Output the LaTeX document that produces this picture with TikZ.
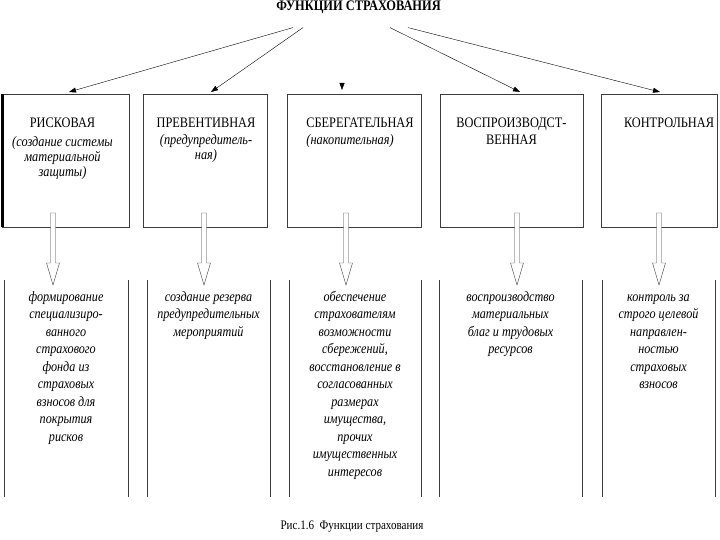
\documentclass[tikz,border=0pt]{standalone}
\usepackage{fontspec}
\setmainfont[FakeStretch=0.85]{Liberation Serif}
\usetikzlibrary{arrows.meta,positioning,calc}
\definecolor{lnGray}{RGB}{60,60,60}

\begin{document}
\begin{tikzpicture}[x=1pt,y=-1pt,
    topbox/.style={draw=lnGray,inner sep=0pt,outer sep=0pt,minimum height=133pt},
    colbox/.style={inner sep=0pt,outer sep=0pt,minimum height=217pt},
    head/.style={align=center,inner sep=0pt,anchor=north,font=\fontsize{14.5}{15}\selectfont},
    lowtxt/.style={align=center,inner sep=0pt,font=\itshape\fontsize{14.3}{17.5}\selectfont},
    sel/.style={-{Triangle[length=7pt,width=5pt]},thin},
    hollow/.style={draw=lnGray,fill=white,to path={
      let \p1=(\tikztostart),\p2=(\tikztotarget) in
      (\x1-2.5pt,\y1) -- (\x1-2.5pt,\y2+22pt) -- (\x1-6.5pt,\y2+22pt) -- (\x1,\y2)
      -- (\x1+6.5pt,\y2+22pt) -- (\x1+2.5pt,\y2+22pt) -- (\x1+2.5pt,\y1) -- cycle}}]
  \useasboundingbox (0,0) rectangle (720,540);

  \node[inner sep=0pt,font=\bfseries\fontsize{14.6}{16}\selectfont] (t) at (358.5,7) {ФУНКЦИИ СТРАХОВАНИЯ};

  % boxes, columns and hollow arrows
  \foreach \i/\x/\w/\cx/\cw/\ax in {
      1/65.5/127/66/124/-12.5,
      2/205/124/208.5/123/-1,
      3/354/134/355/132/-8,
      4/511.5/143/510.5/143/5.5,
      5/659/116/658.5/113/0} {
    \node[topbox,minimum width=\w pt] (b\i) at (\x,160.5) {};
    \node[colbox,minimum width=\cw pt] (c\i) at (\cx,388.5) {};
    \draw[lnGray] (c\i.north west) -- (c\i.south west) (c\i.north east) -- (c\i.south east);
    \draw[hollow] ([xshift=\ax pt,yshift=14pt]b\i.south) to ([xshift=\ax pt,yshift=-5pt]c\i.north);
  }
  \draw[line width=3pt] (b1.north west) -- (b1.south west);

  \draw[sel] ([xshift=-65.5pt,yshift=-14pt]t.south) -- ([xshift=3.5pt,yshift=2pt]b1.north);
  \draw[sel] ([xshift=-55.5pt,yshift=-14pt]t.south) -- ([xshift=6pt,yshift=2pt]b2.north);
  \draw[sel] ([xshift=-12pt,yshift=10pt]b3.north) -- ([xshift=-12pt,yshift=4pt]b3.north);
  \draw[sel] ([xshift=31.5pt,yshift=-14pt]t.south) -- ([xshift=8.5pt,yshift=2pt]b4.north);
  \draw[sel] ([xshift=49.5pt,yshift=-14pt]t.south) -- ([xshift=1pt,yshift=2pt]b5.north);

  \node[head] (h1) at ([xshift=-3pt,yshift=-24pt]b1.north)
    {РИСКОВАЯ\\[4pt]\textit{(создание системы}\\\textit{материальной}\\\textit{защиты)}};
  \node[head] (h2) at ([xshift=1pt,yshift=-24pt]b2.north)
    {ПРЕВЕНТИВНАЯ\\[2pt]\textit{(предупредитель-}\\\textit{ная)}};
  \node[head,align=left] (h3) at ([xshift=6pt,yshift=-24pt]b3.north)
    {СБЕРЕГАТЕЛЬНАЯ\\[2pt]\textit{(накопительная)}};
  \node[head] (h4) at ([yshift=-24pt]b4.north) {ВОСПРОИЗВОДСТ-\\[2pt]ВЕННАЯ};
  \node[head] (h5) at ([xshift=10pt,yshift=-24pt]b5.north) {КОНТРОЛЬНАЯ};

  \node[lowtxt,below=9pt of c1.north] (l1) {\strut формирование\\специализиро-\\ванного\\страхового\\фонда из\\страховых\\взносов для\\покрытия\\рисков};
  \node[lowtxt,below=9pt of c2.north] (l2) {\strut создание резерва\\предупредительных\\мероприятий};
  \node[lowtxt,below=9pt of c3.north] (l3) {\strut обеспечение\\страхователям\\возможности\\сбережений,\\восстановление в\\согласованных\\размерах\\имущества,\\прочих\\имущественных\\интересов};
  \node[lowtxt,below=9pt of c4.north] (l4) {\strut воспроизводство\\материальных\\благ и трудовых\\ресурсов};
  \node[lowtxt,below=9pt of c5.north] (l5) {\strut контроль за\\строго целевой\\направлен-\\ностью\\страховых\\взносов};

  \node[inner sep=0pt,font=\fontsize{13}{15}\selectfont] (cap) at (352,527) {Рис.1.6\ \ Функции страхования};
\end{tikzpicture}
\end{document}
